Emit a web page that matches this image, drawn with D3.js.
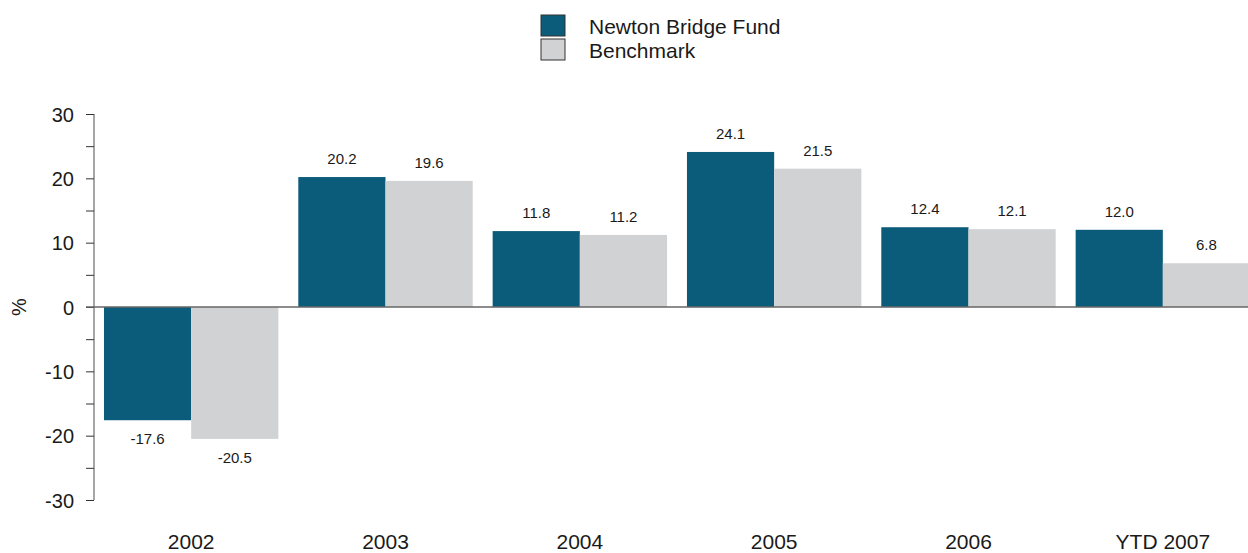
<!DOCTYPE html>
<html><head><meta charset="utf-8">
<script src="https://cdn.jsdelivr.net/npm/d3@7"></script>
<style>body{margin:0;background:#fff}svg{display:block;font-family:"Liberation Sans",Arial,sans-serif}</style>
</head><body><svg id="c" width="1248" height="553"></svg>
<script>
const categories = ["2002","2003","2004","2005","2006","YTD 2007"];
const seriesNames = ["Newton Bridge Fund","Benchmark"];
const fundValues = [-17.6, 20.2, 11.8, 24.1, 12.4, 12.0];
const benchValues = [-20.5, 19.6, 11.2, 21.5, 12.1, 6.8];
const yTicks = [-30,-20,-10,0,10,20,30];
const colors = ["#0b5c7a","#d1d2d4"];

const svg = d3.select("#c");
const y = d3.scaleLinear().domain([-30,30]).range([500,114]);
const x0 = d3.scaleBand().domain(categories).range([94,1260]).paddingInner(0.1026).paddingOuter(0.0513);
const x1 = d3.scaleBand().domain(seriesNames).range([0,x0.bandwidth()]);
const data = categories.map((c,i)=>({cat:c, vals:[fundValues[i], benchValues[i]]}));

// y axis
const axis = d3.axisLeft(y).tickValues(d3.range(-30,31,5)).tickSize(8).tickFormat(d=> yTicks.includes(d)?d:"");
const ga = svg.append("g").attr("transform","translate(94,0)").call(axis);
ga.select(".domain").attr("stroke","#888").attr("stroke-width",1.5).attr("d","M0,114V500");
ga.selectAll(".tick line").attr("stroke","#333");
ga.selectAll(".tick text").attr("font-size",20).attr("fill","#1a1a1a").attr("x",-20).attr("dy","0.35em");

svg.append("text").attr("transform","translate(26,307) rotate(-90)").attr("text-anchor","middle")
  .attr("font-size",20).attr("fill","#1a1a1a").text("%");

// bars
const g = svg.append("g");
data.forEach(d=>{
  d.vals.forEach((v,j)=>{
    const bx = x0(d.cat)+x1(seriesNames[j]);
    g.append("rect").attr("x",bx).attr("width",x1.bandwidth())
      .attr("y",y(Math.max(0,v))).attr("height",Math.abs(y(v)-y(0)))
      .attr("fill",colors[j]);
    g.append("text").attr("x",bx+x1.bandwidth()/2)
      .attr("y", v>=0 ? y(v)-13 : y(v)+24)
      .attr("text-anchor","middle").attr("font-size",15).attr("fill","#1a1a1a")
      .text(v.toFixed(1));
  });
});

// zero line
svg.append("line").attr("x1",86).attr("x2",1248).attr("y1",y(0)).attr("y2",y(0))
  .attr("stroke","#666").attr("stroke-width",1.5);

// category labels
svg.append("g").selectAll("text").data(categories).join("text")
  .attr("x",d=>x0(d)+x0.bandwidth()/2).attr("y",549)
  .attr("text-anchor","middle").attr("font-size",21).attr("fill","#1a1a1a").text(d=>d);

// legend
const lg = svg.append("g");
seriesNames.forEach((n,i)=>{
  lg.append("rect").attr("x",541).attr("y",15+i*24).attr("width",24).attr("height",21)
    .attr("fill",colors[i]).attr("stroke","#333").attr("stroke-width",1);
  lg.append("text").attr("x",589).attr("y",34+i*24).attr("font-size",21).attr("fill","#1a1a1a").text(n);
});
</script></body></html>
